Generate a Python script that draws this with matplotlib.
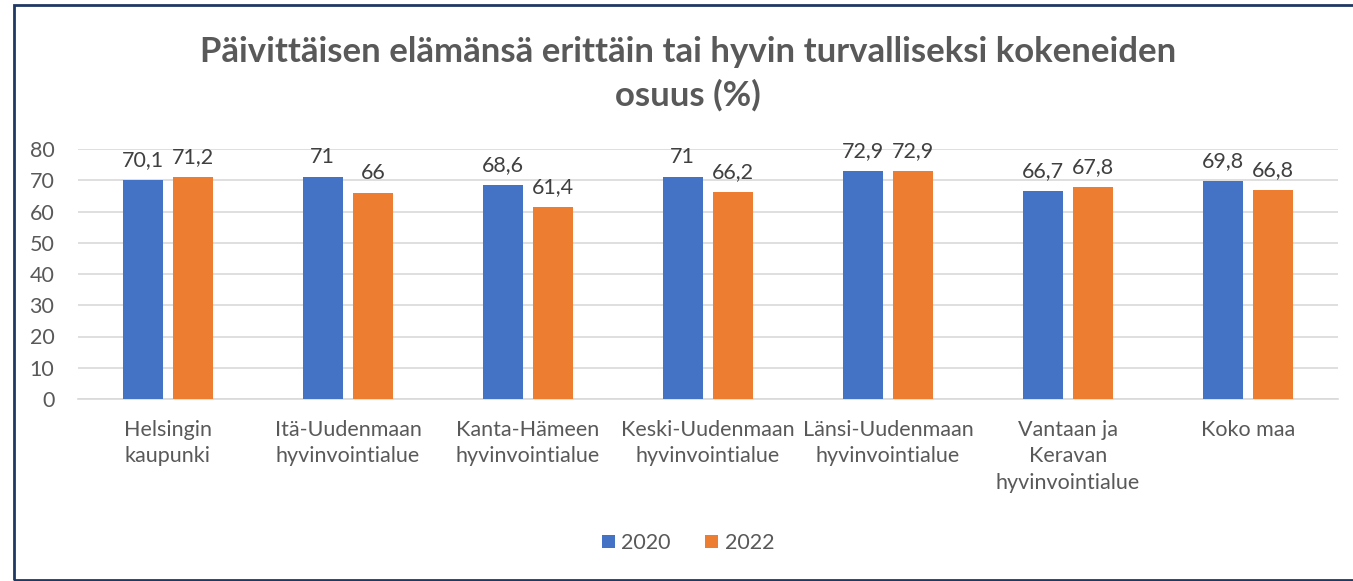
import matplotlib
matplotlib.use('Agg')
import matplotlib.pyplot as plt
import matplotlib.patches as patches
import numpy as np

# Data
categories = ['Helsingin\nkaupunki', 'Itä-Uudenmaan\nhyvinvointialue', 'Kanta-Hämeen\nhyvinvointialue',
              'Keski-Uudenmaan\nhyvinvointialue', 'Länsi-Uudenmaan\nhyvinvointialue',
              'Vantaan ja\nKeravan\nhyvinvointialue', 'Koko maa']
v2020 = [70.1, 71, 68.6, 71, 72.9, 66.7, 69.8]
v2022 = [71.2, 66, 61.4, 66.2, 72.9, 67.8, 66.8]
years = ['2020', '2022']

gray = '#595959'
plt.rcParams['font.family'] = ['Lato', 'DejaVu Sans']

fig = plt.figure(figsize=(13.53, 5.81), dpi=100)
ax = fig.add_axes([78/1353, 1 - 399/581, (1338-78)/1353, 250/581])

x = np.arange(len(categories))
w = 0.22
b1 = ax.bar(x - 0.14, v2020, w, color='#4472C4', label=years[0], zorder=3)
b2 = ax.bar(x + 0.14, v2022, w, color='#ED7D31', label=years[1], zorder=3)

def fmt(v):
    s = ('%.1f' % v).rstrip('0').rstrip('.')
    return s.replace('.', ',')

for bars, vals in [(b1, v2020), (b2, v2022)]:
    for r, v in zip(bars, vals):
        ax.annotate(fmt(v), xy=(r.get_x() + r.get_width()/2, v), xytext=(0, 7),
                    textcoords='offset points', ha='center', va='bottom',
                    fontsize=15.5, color='#404040')

ax.set_xlim(-0.5, len(categories) - 0.5)
ax.set_ylim(0, 80)
ax.set_yticks(range(0, 81, 10))
ax.yaxis.grid(True, color='#D9D9D9', linewidth=1.2, zorder=0)
ax.set_xticks(x)
ax.set_xticklabels(categories, fontsize=15.5, color=gray, linespacing=1.4)
ax.tick_params(axis='x', length=0, pad=15)
ax.tick_params(axis='y', length=0, pad=17, labelsize=15.5, labelcolor=gray)
for lab in ax.get_yticklabels():
    lab.set_horizontalalignment('right')
for s in ['left', 'top', 'right']:
    ax.spines[s].set_visible(False)
ax.spines['bottom'].set_color('#D9D9D9')
ax.spines['bottom'].set_linewidth(1.2)

fig.text(688/1353, 1 - 74/581, 'Päivittäisen elämänsä erittäin tai hyvin turvalliseksi kokeneiden\nosuus (%)',
         ha='center', va='center', fontsize=25, fontweight='bold', color=gray, linespacing=1.4)

fig.legend(loc='center', bbox_to_anchor=(688/1353, 1 - 543/581), ncol=2, frameon=False,
           fontsize=15.5, labelcolor=gray, handlelength=0.6, handleheight=0.6,
           handletextpad=0.3, columnspacing=1.6)

# outer frame
fig.patches.append(patches.Rectangle((14/1353, 1/581), 1.2, 575/581, transform=fig.transFigure,
                                     fill=False, edgecolor='#1F3864', linewidth=2))

fig.savefig('out.png', dpi=100)
